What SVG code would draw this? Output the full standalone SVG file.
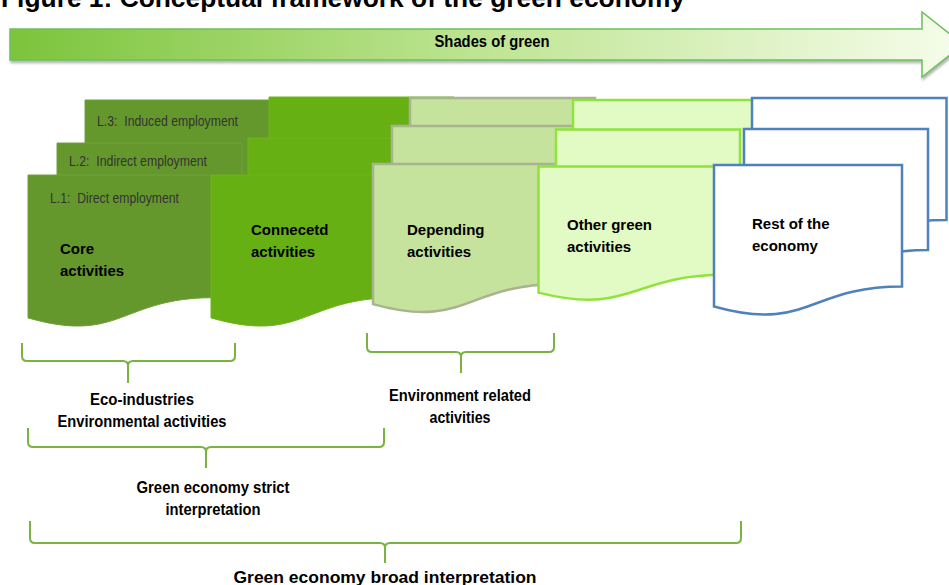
<svg xmlns="http://www.w3.org/2000/svg" width="949" height="585" viewBox="0 0 949 585">
  <defs>
    <linearGradient id="shade" x1="0" y1="0" x2="1" y2="0">
      <stop offset="0" stop-color="#7cc43b"/>
      <stop offset="0.5" stop-color="#bfe594"/>
      <stop offset="1" stop-color="#f6fdeb"/>
    </linearGradient>
    <filter id="drop" x="-5%" y="-20%" width="110%" height="160%">
      <feDropShadow dx="1" dy="2.5" stdDeviation="1.2" flood-color="#7a7a7a" flood-opacity="0.55"/>
    </filter>
    <style>
      .title { font-family: "Liberation Sans", Arial, sans-serif; font-weight: bold; font-size: 26px; fill: #000; }
      .narrow { font-family: "Liberation Sans Narrow", "Liberation Sans", Arial, sans-serif; font-weight: bold; font-size: 16px; fill: #000; }
      .level { font-family: "Liberation Sans Narrow", "Liberation Sans", Arial, sans-serif; font-size: 14px; fill: #333; white-space: pre; }
      .node { font-family: "Liberation Sans", Arial, sans-serif; font-weight: bold; font-size: 15px; fill: #000; }
      .core { fill: #65982c; stroke: #6ea03a; stroke-width: 1; }
      .conn { fill: #66b014; stroke: #6cb41c; stroke-width: 1; }
      .dep { fill: #c6e39d; stroke: #a8b391; stroke-width: 2.5; }
      .oth { fill: #e2fac4; stroke: #8fe33c; stroke-width: 2.5; }
      .rest { fill: #ffffff; stroke: #4f81bd; stroke-width: 2.5; }
      .brace { fill: none; stroke: #79b340; stroke-width: 2; stroke-linejoin: round; }
    </style>
  </defs>

  <!-- heading, cut off by the top edge -->
  <text class="title" x="1" y="7" textLength="684" lengthAdjust="spacingAndGlyphs">Figure 1: Conceptual framework of the green economy</text>

  <!-- gradient arrow -->
  <g id="shades-arrow">
    <polygon points="10,29 922,29 922,12 963,44.5 922,77 922,60 10,60" fill="url(#shade)" stroke="#6cc15a" stroke-width="1.5" filter="url(#drop)"/>
    <text class="narrow" x="492" y="47" text-anchor="middle" font-size="15" textLength="115" lengthAdjust="spacingAndGlyphs">Shades of green</text>
  </g>

  <!-- core activities: three employment levels -->
  <g id="core">
    <path class="core" d="M85,100 H270 V222.7 C177.5,222.7 177.5,269.4 85,242.9 Z"/>
    <path class="core" d="M57,143 H242 V265.7 C149.5,265.7 149.5,312.4 57,285.9 Z"/>
    <path class="core" d="M28,175 H213 V297.7 C120.5,297.7 120.5,344.4 28,317.9 Z"/>
    <text class="level" xml:space="preserve" x="97" y="126" textLength="141" lengthAdjust="spacingAndGlyphs">L.3:  Induced employment</text>
    <text class="level" xml:space="preserve" x="69" y="166" textLength="138" lengthAdjust="spacingAndGlyphs">L.2:  Indirect employment</text>
    <text class="level" xml:space="preserve" x="50" y="203" textLength="129" lengthAdjust="spacingAndGlyphs">L.1:  Direct employment</text>
    <text class="node" x="60" y="254">Core</text>
    <text class="node" x="60" y="276">activities</text>
  </g>

  <!-- connected activities -->
  <g id="connected">
    <path class="conn" d="M269,97 H454 V219.7 C361.5,219.7 361.5,266.4 269,239.9 Z"/>
    <path class="conn" d="M248,138 H433 V260.7 C340.5,260.7 340.5,307.4 248,280.9 Z"/>
    <path class="conn" d="M211,175 H396 V297.7 C303.5,297.7 303.5,344.4 211,317.9 Z"/>
    <text class="node" x="251" y="235">Connecetd</text>
    <text class="node" x="251" y="257">activities</text>
  </g>

  <!-- depending activities -->
  <g id="depending">
    <path class="dep" d="M410,98 H595 V218.3 C502.5,218.3 502.5,264 410,238.1 Z"/>
    <path class="dep" d="M392,126 H577 V246.3 C484.5,246.3 484.5,292 392,266.1 Z"/>
    <path class="dep" d="M373,164 H558 V284.3 C465.5,284.3 465.5,330 373,304.1 Z"/>
    <text class="node" x="407" y="235">Depending</text>
    <text class="node" x="407" y="257">activities</text>
  </g>

  <!-- other green activities -->
  <g id="other-green">
    <path class="oth" d="M573,100 H755 V212.3 C664,212.3 664,255 573,230.8 Z"/>
    <path class="oth" d="M556,129.5 H740 V241.8 C648,241.8 648,284.5 556,260.3 Z"/>
    <path class="oth" d="M538.5,166.5 H724 V274.8 C631.3,274.8 631.3,315.9 538.5,292.6 Z"/>
    <text class="node" x="567" y="230">Other green</text>
    <text class="node" x="567" y="252">activities</text>
  </g>

  <!-- rest of the economy -->
  <g id="rest">
    <path class="rest" d="M752,98 H946.5 V220 C849,220 849,266.5 752,240.5 Z"/>
    <path class="rest" d="M744,129 H928 V250 C836,250 836,296 744,270 Z"/>
    <path class="rest" d="M714,165 H902 V286.5 C808,286.5 808,332.8 714,306.5 Z"/>
    <text class="node" x="752" y="229">Rest of the</text>
    <text class="node" x="752" y="251">economy</text>
  </g>

  <!-- grouping braces -->
  <g id="braces">
    <path class="brace" d="M22,343 V356 Q22,361 27,361 H123 Q128,361 128,366 V383 M235,343 V356 Q235,361 230,361 H133 Q128,361 128,366"/>
    <path class="brace" d="M367,333 V347 Q367,352 372,352 H456 Q461,352 461,357 V373 M554,333 V347 Q554,352 549,352 H466 Q461,352 461,357"/>
    <path class="brace" d="M28,428 V442 Q28,447 33,447 H201 Q206,447 206,452 V468 M384,428 V442 Q384,447 379,447 H211 Q206,447 206,452"/>
    <path class="brace" d="M30,521 V538 Q30,543 35,543 H380 Q385,543 385,548 V563 M741,521 V538 Q741,543 736,543 H390 Q385,543 385,548"/>
  </g>

  <!-- brace captions -->
  <g id="captions">
    <text class="narrow" x="142" y="405" text-anchor="middle" textLength="104" lengthAdjust="spacingAndGlyphs">Eco-industries</text>
    <text class="narrow" x="142" y="427" text-anchor="middle" textLength="169" lengthAdjust="spacingAndGlyphs">Environmental activities</text>
    <text class="narrow" x="460" y="401" text-anchor="middle" textLength="142" lengthAdjust="spacingAndGlyphs">Environment related</text>
    <text class="narrow" x="460" y="423" text-anchor="middle" textLength="61" lengthAdjust="spacingAndGlyphs">activities</text>
    <text class="narrow" x="213" y="493" text-anchor="middle" textLength="153" lengthAdjust="spacingAndGlyphs">Green economy strict</text>
    <text class="narrow" x="213" y="515" text-anchor="middle" textLength="95" lengthAdjust="spacingAndGlyphs">interpretation</text>
    <text class="narrow" x="385" y="583" text-anchor="middle" font-size="17" textLength="303" lengthAdjust="spacingAndGlyphs">Green economy broad interpretation</text>
  </g>
</svg>
